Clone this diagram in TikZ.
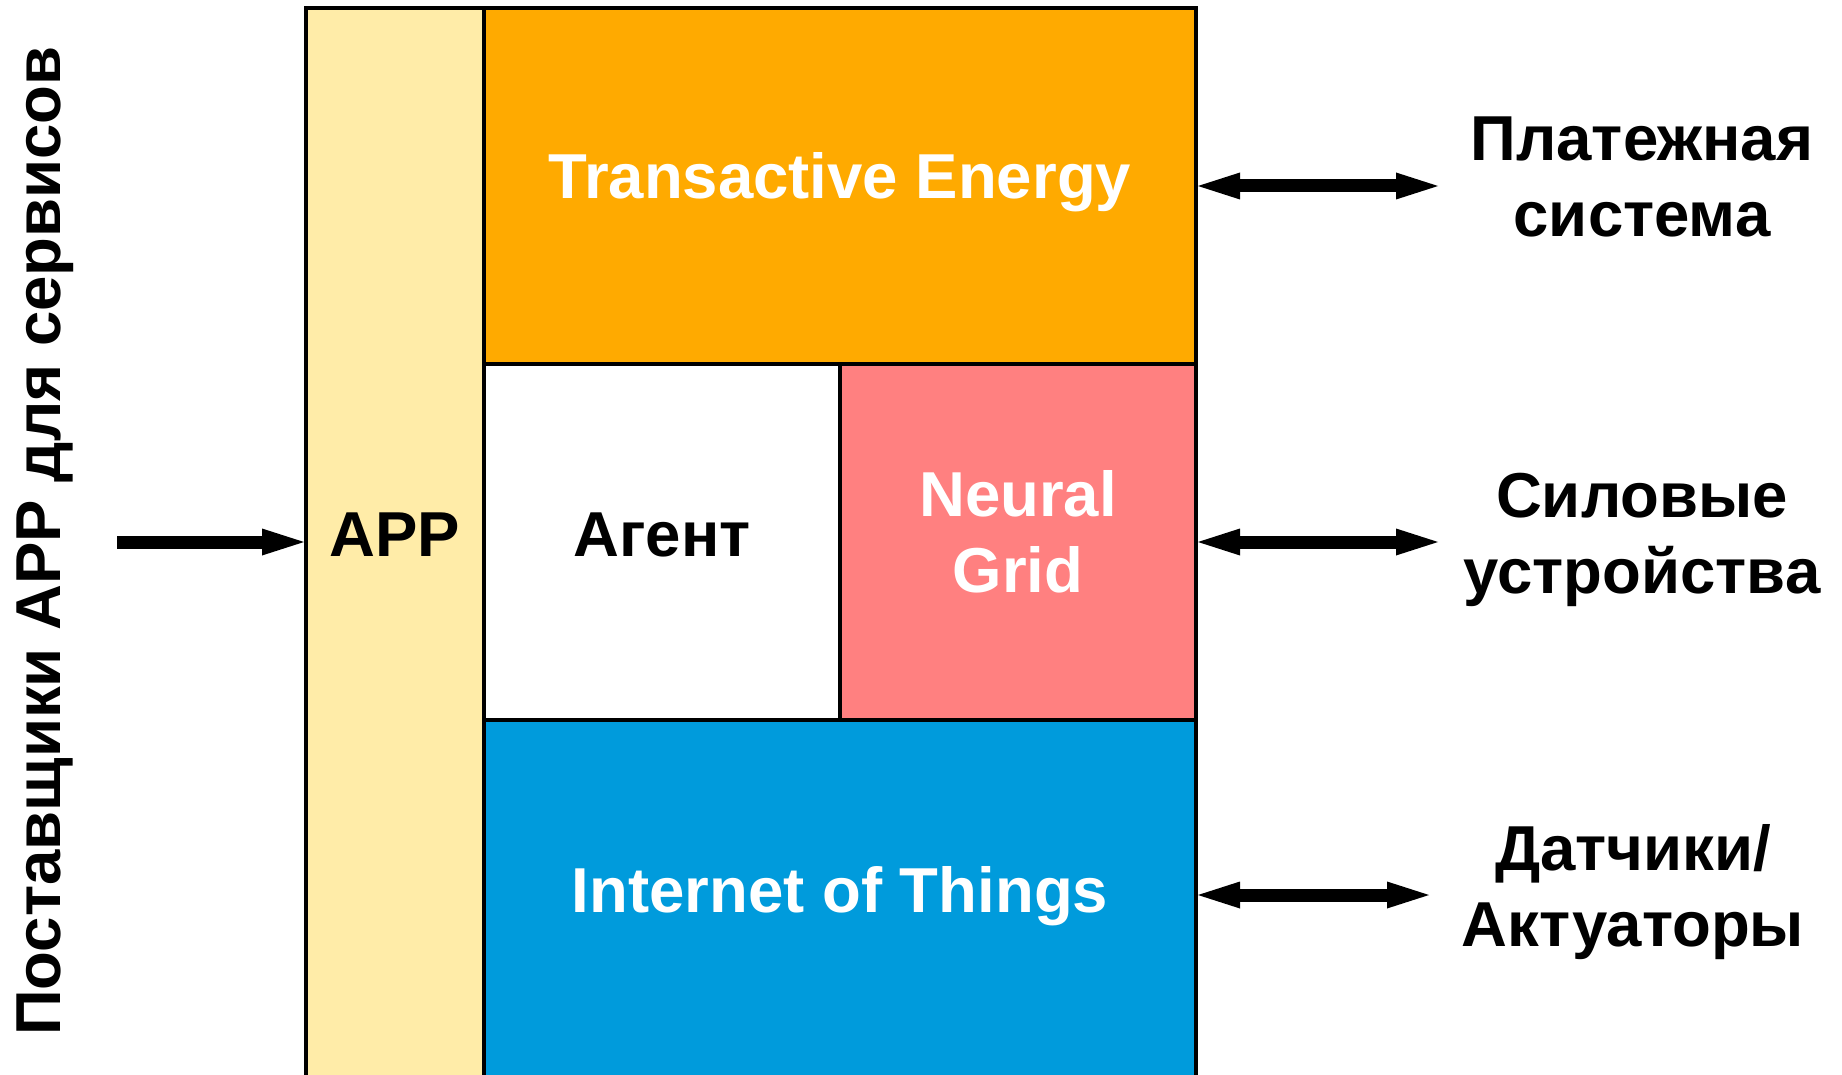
\documentclass[tikz,border=0pt]{standalone}
\usepackage{fontspec}
\setmainfont{Liberation Sans}
\usetikzlibrary{arrows.meta}
\definecolor{appY}{HTML}{FFECA8}
\definecolor{teO}{HTML}{FFAA00}
\definecolor{ngR}{HTML}{FF8080}
\definecolor{iotB}{HTML}{009BDC}
\begin{document}
\begin{tikzpicture}[x=1pt,y=-1pt,
  blk/.style={draw=black,line width=4pt,inner sep=0pt,rectangle},
  lbl/.style={font=\bfseries\fontsize{63.5pt}{76pt}\selectfont,inner sep=0pt,anchor=base},
  conn/.style={line width=13pt,
    {Triangle[length=42pt,width=27pt,line width=0pt]}-{Triangle[length=42pt,width=27pt,line width=0pt]}},
  feed/.style={line width=13pt,-{Triangle[length=42pt,width=27pt,line width=0pt]}}]
\useasboundingbox (0,0) rectangle (1842,1075);
\clip (0,0) rectangle (1842,1075);
% boxes
\node[blk,fill=appY,minimum width=178pt,minimum height=1077pt] (app) at (395,546.5) {};
\node[blk,fill=teO,minimum width=712pt,minimum height=356pt] (te) at (840,186) {};
\node[blk,fill=white,minimum width=356pt,minimum height=356pt] (ag) at (662,542) {};
\node[blk,fill=ngR,minimum width=356pt,minimum height=356pt] (ng) at (1018,542) {};
\node[blk,fill=iotB,minimum width=712pt,minimum height=365pt] (iot) at (840,902.5) {};
% box texts
\node[lbl,text=white] (tetxt) at (840,199) {Transactive Energy};
\node[lbl] (apptxt) at (395,556) {APP};
\node[lbl] (agtxt) at (662,556) {Агент};
\node[lbl,text=white] (ngtxt) at (1018,516) {\begin{tabular}[t]{@{}c@{}}Neural\\Grid\end{tabular}};
\node[lbl,text=white] (iottxt) at (840,912) {Internet of Things};
% right labels
\node[lbl] (pay) at (1642,161) {\begin{tabular}[t]{@{}c@{}}Платежная\\система\end{tabular}};
\node[lbl] (pow) at (1642,517) {\begin{tabular}[t]{@{}c@{}}Силовые\\устройства\end{tabular}};
\node[lbl] (sen) at (1633,870) {\begin{tabular}[t]{@{}c@{}}Датчики/\\Актуаторы\end{tabular}};
% left label
\node[lbl,rotate=90] (prov) at (60,541) {Поставщики APP для сервисов};
% connector ends
\coordinate (c1) at (1438,186);
\coordinate (c2) at (1438,542);
\coordinate (c3) at (1429,895);
\coordinate (c0) at (117,542);
% connectors
\draw[conn] (te.east) -- (c1);
\draw[conn] (ng.east) -- (c2);
\draw[conn] (iot.east |- c3) -- (c3);
\draw[feed] (c0) -- (app.west |- c0);
\end{tikzpicture}
\end{document}
